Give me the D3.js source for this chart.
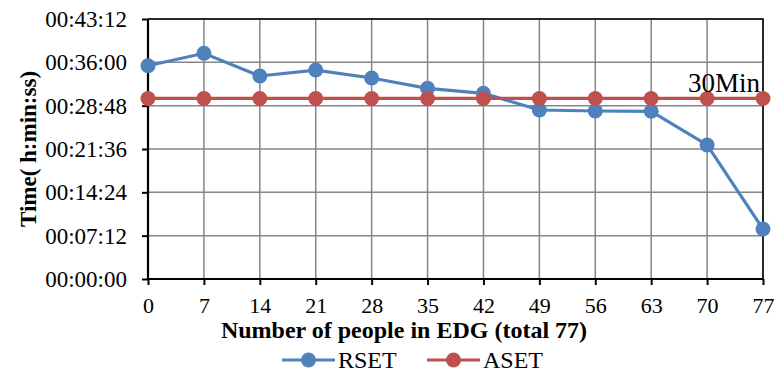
<!DOCTYPE html>
<html><head><meta charset="utf-8">
<script src="https://cdn.jsdelivr.net/npm/d3@7"></script>
<style>body{margin:0;background:#fff}svg{display:block;font-family:"Liberation Serif","Times New Roman",serif}</style>
</head><body><svg id="c" width="774" height="372"></svg>
<script>
const people = [0,7,14,21,28,35,42,49,56,63,70,77];
const rsetTimes = ["00:35:26","00:37:30","00:33:44","00:34:43","00:33:24","00:31:41","00:30:51","00:28:05","00:27:55","00:27:52","00:22:16","00:08:18"];
const asetTimes = ["00:30:00","00:30:00","00:30:00","00:30:00","00:30:00","00:30:00","00:30:00","00:30:00","00:30:00","00:30:00","00:30:00","00:30:00"];
const yTickLabels = ["00:00:00","00:07:12","00:14:24","00:21:36","00:28:48","00:36:00","00:43:12"];
const seriesNames = ["RSET","ASET"];
const colors = ["#4F81BD","#C0504D"];

const toSec = s => { const [h,m,x] = s.split(":").map(Number); return h*3600+m*60+x; };
const svg = d3.select("#c");
const L=148,R=763,T=19,B=279;
const x = d3.scalePoint().domain(people).range([L,R]);
const yTicks = yTickLabels.map(toSec);
const y = d3.scaleLinear().domain([0, d3.max(yTicks)]).range([B,T]);

// grid
svg.append("g").selectAll("line").data(yTicks).join("line")
  .attr("x1",L).attr("x2",R).attr("y1",d=>y(d)).attr("y2",d=>y(d))
  .attr("stroke","#868686").attr("stroke-width",1.5);
svg.append("g").selectAll("line").data(people).join("line")
  .attr("x1",d=>x(d)).attr("x2",d=>x(d)).attr("y1",T).attr("y2",B)
  .attr("stroke","#868686").attr("stroke-width",1.5);
// border top/right
svg.append("path").attr("d",`M${L},${T}H${R}V${B}`).attr("fill","none").attr("stroke","#000").attr("stroke-width",1.5);

// axes
const yAxis = d3.axisLeft(y).tickValues(yTicks).tickFormat((d,i)=>yTickLabels[i]).tickSize(6).tickPadding(15);
const gy = svg.append("g").attr("transform",`translate(${L},0)`).call(yAxis);
const xAxis = d3.axisBottom(x).tickSize(6).tickPadding(12);
const gx = svg.append("g").attr("transform",`translate(0,${B})`).call(xAxis);
[gy,gx].forEach(g=>{
  g.select(".domain").attr("stroke","#000").attr("stroke-width",2.2);
  g.selectAll(".tick line").attr("stroke","#000").attr("stroke-width",2);
  g.selectAll("text").attr("font-family","Liberation Serif").attr("fill","#000");
});
gy.selectAll("text").attr("font-size",23);
gx.selectAll("text").attr("font-size",22);
gx.select(".domain").attr("d",`M${L},0H${R}`);
gy.select(".domain").attr("d",`M0,${T}V${B}`);

// series
const data = [rsetTimes.map(toSec), asetTimes.map(toSec)];
const line = d3.line().x((d,i)=>x(people[i])).y(d=>y(d));
data.forEach((vals,k)=>{
  const g = svg.append("g");
  g.append("path").datum(vals).attr("d",line).attr("fill","none").attr("stroke",colors[k]).attr("stroke-width",3.2);
  g.selectAll("circle").data(vals).join("circle").attr("cx",(d,i)=>x(people[i])).attr("cy",d=>y(d)).attr("r",7.5).attr("fill",colors[k]);
});

// annotation
svg.append("text").attr("x",x(77)-3).attr("y",y(toSec("00:30:00"))-6).attr("text-anchor","end")
  .attr("font-size",27).text("30Min");

// titles
svg.append("text").attr("transform",`translate(36,${(T+B)/2}) rotate(-90)`).attr("text-anchor","middle")
  .attr("font-weight","bold").attr("font-size",23).text("Time( h:min:ss)");
svg.append("text").attr("x",404).attr("y",338).attr("text-anchor","middle")
  .attr("font-weight","bold").attr("font-size",24).text("Number of people in EDG (total 77)");

// legend
const legX = [282,427];
seriesNames.forEach((n,k)=>{
  const g = svg.append("g").attr("transform",`translate(${legX[k]},360)`);
  g.append("line").attr("x1",0).attr("x2",53).attr("stroke",colors[k]).attr("stroke-width",3.2);
  g.append("circle").attr("cx",26.5).attr("r",7.5).attr("fill",colors[k]);
  g.append("text").attr("x",56).attr("y",8).attr("font-size",24).text(n);
});
</script></body></html>
